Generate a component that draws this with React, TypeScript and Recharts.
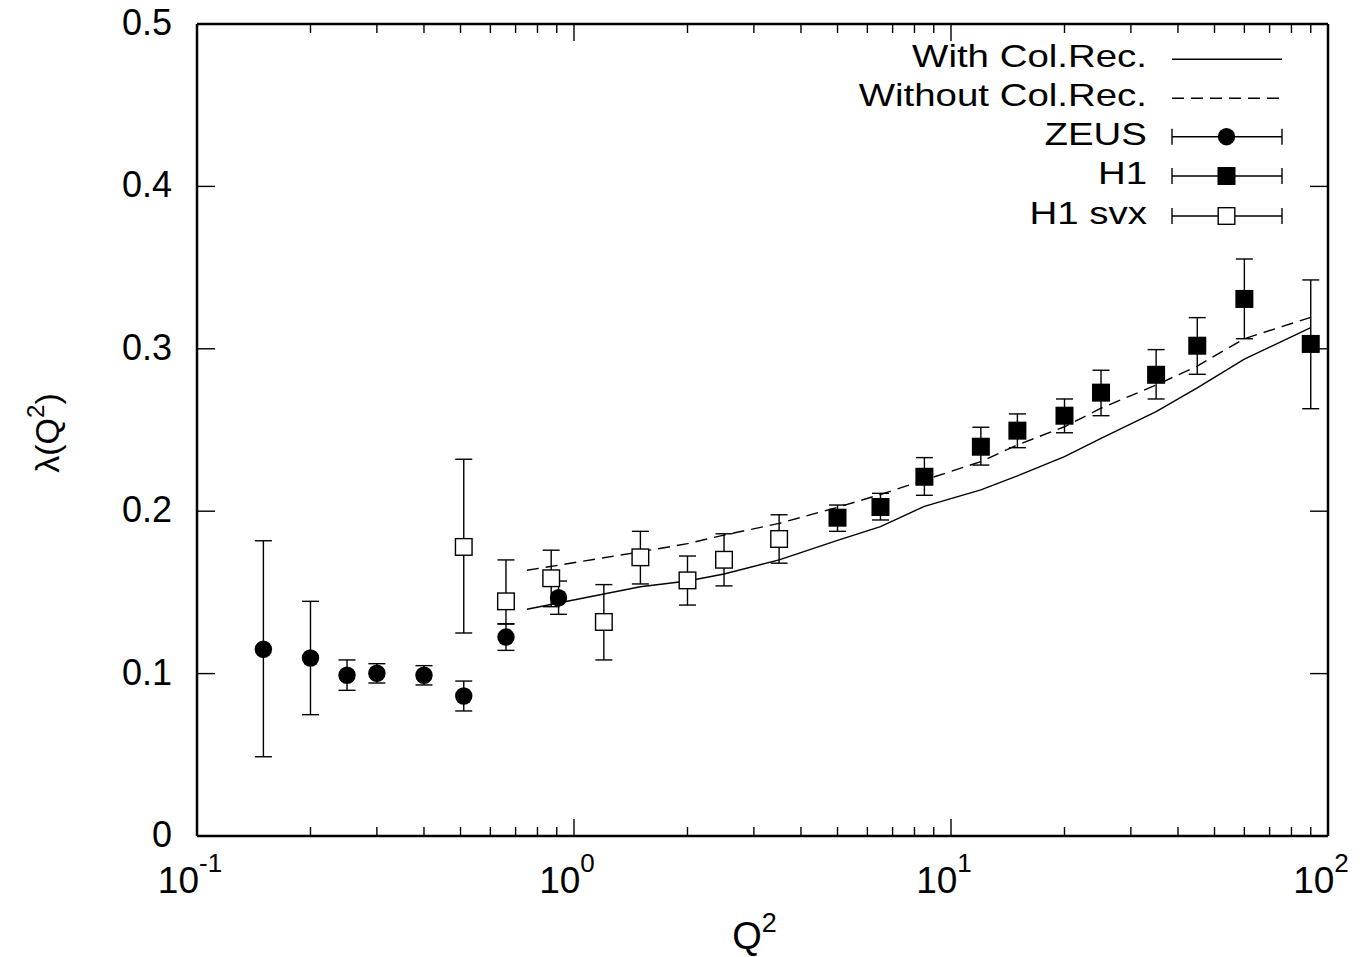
import React from 'react';
import { ComposedChart, Scatter, Line, XAxis, YAxis, ErrorBar, Legend } from 'recharts';

const FONT = '"Liberation Sans", Arial, Helvetica, sans-serif';

// ZEUS (filled circles)
const zeusQ2 = [0.15, 0.2, 0.25, 0.3, 0.4, 0.51, 0.66, 0.91];
const zeusLambda = [0.115, 0.1096, 0.099, 0.1002, 0.099, 0.0862, 0.1225, 0.1467];
const zeusLow = [0.0488, 0.0747, 0.0897, 0.0942, 0.093, 0.077, 0.1143, 0.1365];
const zeusHigh = [0.1818, 0.1445, 0.1084, 0.1061, 0.1049, 0.0954, 0.1305, 0.157];

// H1 (filled squares)
const h1Q2 = [5, 6.5, 8.5, 12, 15, 20, 25, 35, 45, 60, 90];
const h1Lambda = [0.196, 0.2026, 0.2212, 0.2397, 0.2496, 0.2588, 0.273, 0.284, 0.3019, 0.3307, 0.303];
const h1Low = [0.1876, 0.1946, 0.2098, 0.2284, 0.2391, 0.2483, 0.2588, 0.2691, 0.2843, 0.3062, 0.2631];
const h1High = [0.2038, 0.211, 0.233, 0.2517, 0.2599, 0.2691, 0.2868, 0.2995, 0.3192, 0.3553, 0.3424];

// H1 svx (open squares)
const svxQ2 = [0.51, 0.66, 0.87, 1.2, 1.5, 2.0, 2.5, 3.5];
const svxLambda = [0.178, 0.1445, 0.1587, 0.1318, 0.1716, 0.1574, 0.1701, 0.1829];
const svxLow = [0.125, 0.1307, 0.1412, 0.1084, 0.1552, 0.1422, 0.154, 0.168];
const svxHigh = [0.232, 0.17, 0.176, 0.1548, 0.1876, 0.1724, 0.1861, 0.1978];

// Model curves
const curveQ2 = [0.75, 1.2, 1.5, 2, 2.5, 3.5, 5, 6.5, 8.5, 12, 15, 20, 25, 35, 45, 60, 90];
const withColRec = [0.1396, 0.149, 0.1535, 0.157, 0.1613, 0.17, 0.182, 0.1905, 0.203, 0.2131, 0.2217, 0.2336, 0.2449, 0.2613, 0.276, 0.2937, 0.313];
const withoutColRec = [0.1636, 0.1713, 0.175, 0.18, 0.1853, 0.1925, 0.2024, 0.2103, 0.2192, 0.2305, 0.2408, 0.252, 0.2634, 0.2777, 0.2894, 0.3062, 0.3194];

// Axes
const xMajorTicks = [0.1, 1, 10, 100];
const xMajorExponents = ['-1', '0', '1', '2'];
const xMinorTicks = [0.2, 0.3, 0.4, 0.5, 0.6, 0.7, 0.8, 0.9, 2, 3, 4, 5, 6, 7, 8, 9, 20, 30, 40, 50, 60, 70, 80, 90];
const xAllTicks = [...xMajorTicks, ...xMinorTicks].sort((a, b) => a - b);
const yTicks = [0, 0.1, 0.2, 0.3, 0.4, 0.5];
const yTickLabels = ['0', '0.1', '0.2', '0.3', '0.4', '0.5'];

const legendLabels = ['With Col.Rec.', 'Without Col.Rec.', 'ZEUS', 'H1', 'H1 svx'];

const toPoints = (xs: number[], ys: number[], lo: number[], hi: number[]) =>
  xs.map((x, i) => ({ x, y: ys[i], err: [ys[i] - lo[i], hi[i] - ys[i]] }));

const zeusData = toPoints(zeusQ2, zeusLambda, zeusLow, zeusHigh);
const h1Data = toPoints(h1Q2, h1Lambda, h1Low, h1High);
const svxData = toPoints(svxQ2, svxLambda, svxLow, svxHigh);
const curveData = curveQ2.map((x, i) => ({ x, solid: withColRec[i], dashed: withoutColRec[i] }));

const LW = 1.4;
const DASH = '12 7';

const isMajor = (v: number) => xMajorTicks.some((m) => Math.abs(m - v) < 1e-9);

const XTickBottom = (props: any) => {
  const { x, y, payload } = props;
  const v = payload.value;
  const idx = xMajorTicks.findIndex((m) => Math.abs(m - v) < 1e-9);
  const major = idx >= 0;
  return (
    <g>
      <line x1={x} x2={x} y1={y} y2={y - (major ? 17 : 9)} stroke="#000" strokeWidth={LW} />
      {major && (
        <text x={x - 7} y={y + 57} textAnchor="middle" fontSize={37} fontFamily={FONT} fill="#000">
          10
          <tspan dy={-21} fontSize={26}>{xMajorExponents[idx]}</tspan>
        </text>
      )}
    </g>
  );
};

const XTickTop = (props: any) => {
  const { x, y, payload } = props;
  const major = isMajor(payload.value);
  return <line x1={x} x2={x} y1={y} y2={y + (major ? 17 : 9)} stroke="#000" strokeWidth={LW} />;
};

const YTickLeft = (props: any) => {
  const { x, y, payload } = props;
  const idx = yTicks.findIndex((t) => Math.abs(t - payload.value) < 1e-9);
  return (
    <g>
      <line x1={x} x2={x + 18} y1={y} y2={y} stroke="#000" strokeWidth={LW} />
      <text x={x - 25} y={y + 11} textAnchor="end" fontSize={36} fontFamily={FONT} fill="#000">
        {yTickLabels[idx]}
      </text>
    </g>
  );
};

const YTickRight = (props: any) => {
  const { x, y } = props;
  return <line x1={x} x2={x - 18} y1={y} y2={y} stroke="#000" strokeWidth={LW} />;
};

const CircleShape = (p: any) => <circle cx={p.cx} cy={p.cy} r={8.7} fill="#000" />;
const FilledSquareShape = (p: any) => (
  <rect x={p.cx - 9} y={p.cy - 9} width={18} height={18} fill="#000" />
);
const OpenSquareShape = (p: any) => (
  <rect x={p.cx - 8.3} y={p.cy - 8.3} width={16.6} height={16.6} fill="#fff" stroke="#000" strokeWidth={LW} />
);

const LegendContent = () => {
  const rows = [59.3, 98.3, 136.7, 176, 216];
  const textEnd = 1147;
  const x1 = 1172;
  const x2 = 1282;
  const xm = 1226.5;
  const sx = 1.26;
  const errSample = (y: number) => (
    <g>
      <line x1={x1} x2={x2} y1={y} y2={y} stroke="#000" strokeWidth={LW} />
      <line x1={x1} x2={x1} y1={y - 8} y2={y + 8} stroke="#000" strokeWidth={LW} />
      <line x1={x2} x2={x2} y1={y - 8} y2={y + 8} stroke="#000" strokeWidth={LW} />
    </g>
  );
  return (
    <svg width={1366} height={250} style={{ display: 'block' }}>
      {legendLabels.map((lab, i) => (
        <g key={lab} transform={`translate(${textEnd},${rows[i] + 8}) scale(${sx},1)`}>
          <text x={0} y={0} textAnchor="end" fontSize={30.5} fontFamily={FONT} fill="#000">
            {lab}
          </text>
        </g>
      ))}
      <line x1={x1} x2={x2} y1={rows[0]} y2={rows[0]} stroke="#000" strokeWidth={LW} />
      <line x1={x1} x2={x2} y1={rows[1]} y2={rows[1]} stroke="#000" strokeWidth={LW} strokeDasharray={DASH} />
      {errSample(rows[2])}
      <circle cx={xm} cy={rows[2]} r={8.7} fill="#000" />
      {errSample(rows[3])}
      <rect x={xm - 9} y={rows[3] - 9} width={18} height={18} fill="#000" />
      {errSample(rows[4])}
      <rect x={xm - 8.3} y={rows[4] - 8.3} width={16.6} height={16.6} fill="#fff" stroke="#000" strokeWidth={LW} />
    </svg>
  );
};

const YLabel = (props: any) => {
  const vb = props.viewBox || { x: 196, y: 24, width: 1, height: 812 };
  const cx = vb.x + vb.width - 150;
  const cy = vb.y + vb.height / 2 + 3;
  return (
    <text
      x={cx}
      y={cy}
      transform={`rotate(-90, ${cx}, ${cy})`}
      textAnchor="middle"
      dominantBaseline="central"
      fontSize={34}
      fontFamily={FONT}
      fill="#000"
    >
      λ(Q<tspan dy={-12} fontSize={24}>2</tspan><tspan dy={12}>)</tspan>
    </text>
  );
};

const XLabel = (props: any) => {
  const vb = props.viewBox || { x: 197, y: 836, width: 1131, height: 1 };
  const cx = vb.x + vb.width / 2 - 8;
  return (
    <text x={cx} y={vb.y + 113} textAnchor="middle" fontSize={38} fontFamily={FONT} fill="#000">
      Q<tspan dy={-17} fontSize={27}>2</tspan>
    </text>
  );
};

export default function App() {
  return (
    <div style={{ position: 'absolute', left: 0, top: 0, width: 1366, height: 957, background: '#fff' }}>
      <ComposedChart
        width={1366}
        height={957}
        margin={{ top: 23, right: 37, bottom: 120, left: 196 }}
      >
        <XAxis
          xAxisId="bottom"
          dataKey="x"
          type="number"
          scale="log"
          domain={[0.1, 100]}
          allowDataOverflow
          ticks={xAllTicks}
          interval={0}
          height={1}
          tickSize={0}
          tickMargin={0}
          tickLine={false}
          axisLine={{ stroke: '#000', strokeWidth: 2.5 }}
          tick={<XTickBottom />}
          label={<XLabel />}
        />
        <XAxis
          xAxisId="top"
          orientation="top"
          dataKey="x"
          type="number"
          scale="log"
          domain={[0.1, 100]}
          allowDataOverflow
          ticks={xAllTicks}
          interval={0}
          height={1}
          tickSize={0}
          tickMargin={0}
          tickLine={false}
          axisLine={{ stroke: '#000', strokeWidth: 2.5 }}
          tick={<XTickTop />}
        />
        <YAxis
          yAxisId="left"
          dataKey="y"
          type="number"
          domain={[0, 0.5]}
          allowDataOverflow
          ticks={yTicks}
          interval={0}
          width={1}
          tickSize={0}
          tickMargin={0}
          tickLine={false}
          axisLine={{ stroke: '#000', strokeWidth: 2.5 }}
          tick={<YTickLeft />}
          label={<YLabel />}
        />
        <YAxis
          yAxisId="right"
          orientation="right"
          type="number"
          domain={[0, 0.5]}
          allowDataOverflow
          ticks={yTicks}
          interval={0}
          width={1}
          tickSize={0}
          tickMargin={0}
          tickLine={false}
          axisLine={{ stroke: '#000', strokeWidth: 2.5 }}
          tick={<YTickRight />}
        />
        <Legend
          layout="vertical"
          align="center"
          verticalAlign="middle"
          content={<LegendContent />}
          wrapperStyle={{ position: 'absolute', left: 0, top: 0, width: 1366, height: 250, pointerEvents: 'none' }}
        />
        <Line
          xAxisId="bottom"
          yAxisId="left"
          data={curveData}
          dataKey="solid"
          type="linear"
          stroke="#000"
          strokeWidth={LW}
          dot={false}
          activeDot={false}
          isAnimationActive={false}
          legendType="none"
        />
        <Line
          xAxisId="bottom"
          yAxisId="left"
          data={curveData}
          dataKey="dashed"
          type="linear"
          stroke="#000"
          strokeWidth={LW}
          strokeDasharray={DASH}
          dot={false}
          activeDot={false}
          isAnimationActive={false}
          legendType="none"
        />
        <Scatter xAxisId="bottom" yAxisId="left" data={zeusData} shape={<CircleShape />} isAnimationActive={false}>
          <ErrorBar dataKey="err" direction="y" width={8.5} stroke="#000" strokeWidth={LW} isAnimationActive={false} />
        </Scatter>
        <Scatter xAxisId="bottom" yAxisId="left" data={h1Data} shape={<FilledSquareShape />} isAnimationActive={false}>
          <ErrorBar dataKey="err" direction="y" width={8.5} stroke="#000" strokeWidth={LW} isAnimationActive={false} />
        </Scatter>
        <Scatter xAxisId="bottom" yAxisId="left" data={svxData} shape={<OpenSquareShape />} isAnimationActive={false}>
          <ErrorBar dataKey="err" direction="y" width={8.5} stroke="#000" strokeWidth={LW} isAnimationActive={false} />
        </Scatter>
      </ComposedChart>
    </div>
  );
}
